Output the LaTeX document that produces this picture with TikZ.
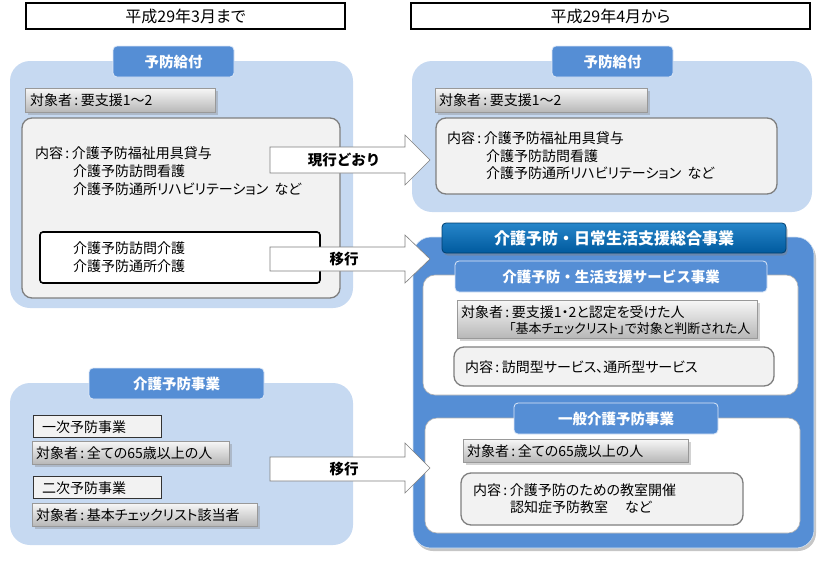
\documentclass[tikz,border=0pt]{standalone}
\usepackage{fontspec}
\setmainfont[RawFeature=+palt]{Noto Sans CJK JP}
\newfontfamily\jpfull{Noto Sans CJK JP}
\newcommand\jcolon{\kern2.5pt:\kern2.5pt}
\usetikzlibrary{shadows}
\definecolor{panelblue}{HTML}{C6D9F1}
\definecolor{tabblue}{HTML}{558ED5}
\definecolor{darkbar}{HTML}{0070C0}
\definecolor{darkbarb}{HTML}{005A9E}
\definecolor{boxgray}{HTML}{F2F2F2}
\definecolor{edgegray}{HTML}{7F7F7F}
\begin{document}
\begin{tikzpicture}[x=1pt,y=-1pt,
  every node/.style={inner sep=0pt, outer sep=0pt},
  hdr/.style={draw=black, line width=1.4pt, fill=white, anchor=north west},
  panel/.style={fill=panelblue, rounded corners=20pt, anchor=north west},
  tab/.style={fill=tabblue, draw=white!80!tabblue, line width=0.8pt, rounded corners=4pt, anchor=north west},
  tabtext/.style={text=white, font=\jpfull\fontsize{14.5pt}{17pt}\selectfont\bfseries},
  graybox/.style={top color=white!97!black, bottom color=white!72!black, draw=white!60!black, line width=0.5pt, anchor=north west,
     drop shadow={opacity=0.35, shadow xshift=2.5pt, shadow yshift=-2.5pt}},
  content/.style={fill=boxgray, draw=edgegray, line width=1.3pt, rounded corners=10pt, anchor=north west},
  plain/.style={fill=boxgray, draw=black!80, line width=1pt, anchor=north west},
  body/.style={font=\fontsize{14pt}{16pt}\selectfont, anchor=west},
  arr/.style={fill=white, draw=edgegray, line width=0.6pt, line join=miter},
  arrtext/.style={font=\jpfull\fontsize{14.5pt}{17pt}\selectfont\bfseries},
  whitepanel/.style={fill=white, draw=white!70!black, line width=0.6pt, rounded corners=12pt, anchor=north west}
]
\useasboundingbox (0,0) rectangle (838,562);

% headers
\node[hdr, minimum width=319pt, minimum height=26pt] (h1) at (26,3) {};
\node[font=\fontsize{16pt}{18pt}\selectfont] (h1t) at (h1.center) {平成29年3月まで};
\node[hdr, minimum width=399pt, minimum height=26pt] (h2) at (411,3) {};
\node[font=\fontsize{16pt}{18pt}\selectfont] (h2t) at (h2.center) {平成29年4月から};

% ---------- left upper panel ----------
\node[panel, minimum width=343pt, minimum height=247pt] (lp1) at (10,61) {};
\node[tab, minimum width=121pt, minimum height=31pt] (lt1) at (113,46) {};
\node[tabtext] at (lt1.center) {予防給付};
\node[graybox, minimum width=190pt, minimum height=24pt] (lg1) at (25,88) {};
\node[body] (lg1t) at (30,100) {対象者\jcolon 要支援1～2};
\node[content, minimum width=318pt, minimum height=180pt] (lc1) at (22,118) {};
\node[body] (lc1a) at (35,153) {内容\jcolon 介護予防福祉用具貸与};
\node[body] (lc1b) at (73,171) {介護予防訪問看護};
\node[body] (lc1c) at (73,189) {介護予防通所リハビリテーション\ \ など};
\node[fill=white, draw=black, line width=1.6pt, rounded corners=3pt, anchor=north west, minimum width=280pt, minimum height=51pt] (lb1) at (40,232) {};
\node[body] (lb1a) at (73,248) {介護予防訪問介護};
\node[body] (lb1b) at (73,266) {介護予防通所介護};

% ---------- left lower panel ----------
\node[panel, minimum width=343pt, minimum height=162pt] (lp2) at (10,383) {};
\node[tab, minimum width=175pt, minimum height=31pt] (lt2) at (89,368) {};
\node[tabtext] at (lt2.center) {介護予防事業};
\node[plain, minimum width=128pt, minimum height=22pt] (lq1) at (33,415) {};
\node[body] (lq1t) at (42,427) {一次予防事業};
\node[graybox, minimum width=197pt, minimum height=23pt] (lq2) at (32,441) {};
\node[body] (lq2t) at (36,453) {対象者\jcolon 全ての65歳以上の人};
\node[plain, minimum width=128pt, minimum height=22pt] (lq3) at (33,476) {};
\node[body] (lq3t) at (42,488) {二次予防事業};
\node[graybox, minimum width=225pt, minimum height=23pt] (lq4) at (32,503) {};
\node[body] (lq4t) at (36,515) {対象者\jcolon 基本チェックリスト該当者};

% ---------- right upper panel ----------
\node[panel, minimum width=400pt, minimum height=151pt] (rp1) at (412,61) {};
\node[tab, minimum width=121pt, minimum height=31pt] (rt1) at (552,46) {};
\node[tabtext] at (rt1.center) {予防給付};
\node[graybox, minimum width=212pt, minimum height=24pt] (rg1) at (435,88) {};
\node[body] (rg1t) at (439,100) {対象者\jcolon 要支援1～2};
\node[content, minimum width=341pt, minimum height=76pt] (rc1) at (436,118) {};
\node[body] (rc1a) at (447,138) {内容\jcolon 介護予防福祉用具貸与};
\node[body] (rc1b) at (486,156) {介護予防訪問看護};
\node[body] (rc1c) at (486,173) {介護予防通所リハビリテーション\ \ など};

% ---------- right big panel ----------
\node[fill=tabblue, draw=white!75!tabblue, line width=0.6pt, rounded corners=18pt, anchor=north west, minimum width=401pt, minimum height=311pt,
      drop shadow={opacity=0.45, shadow xshift=2pt, shadow yshift=-3pt}] (big) at (413,237) {};
\node[top color=darkbar!85!white, bottom color=darkbarb, draw=darkbarb!70!black, line width=0.8pt, rounded corners=4pt, anchor=north west,
      minimum width=344pt, minimum height=30pt, drop shadow={opacity=0.45, shadow xshift=1.5pt, shadow yshift=-2.5pt}] (bar) at (442,223) {};
\node[text=white, font=\jpfull\fontsize{16pt}{19pt}\selectfont\bfseries] (bart) at (bar.center) {介護予防・日常生活支援総合事業};

\node[whitepanel, minimum width=375pt, minimum height=120pt] (w1) at (423,275) {};
\node[tab, minimum width=312pt, minimum height=31pt] (st) at (455,261) {};
\node[tabtext] at (st.center) {介護予防・生活支援サービス事業};
\node[graybox, minimum width=300pt, minimum height=38pt] (sg) at (457,300) {};
\node[body] (sga) at (461,312) {対象者\jcolon 要支援1・2と認定を受けた人};
\node[body, font=\fontsize{13pt}{16pt}\selectfont] (sgb) at (509,329) {「基本チェックリスト」で対象と判断された人};
\node[content, minimum width=320pt, minimum height=39pt] (sc) at (454,347) {};
\node[body] (sct) at (465,367) {内容\jcolon 訪問型サービス、通所型サービス};

\node[whitepanel, minimum width=375pt, minimum height=115pt] (w2) at (425,418) {};
\node[tab, minimum width=204pt, minimum height=31pt] (gt) at (514,403) {};
\node[tabtext] at (gt.center) {一般介護予防事業};
\node[graybox, minimum width=225pt, minimum height=23pt] (gg) at (463,439) {};
\node[body] (ggt) at (467,451) {対象者\jcolon 全ての65歳以上の人};
\node[content, minimum width=282pt, minimum height=52pt] (gc) at (461,473) {};
\node[body] (gca) at (473,490) {内容\jcolon 介護予防のための教室開催};
\node[body] (gcb) at (510,507) {認知症予防教室\quad\ など};

% ---------- arrows ----------
\draw[arr] (270,147) -- (405,147) -- (405,135) -- (430,160) -- (405,185) -- (405,173) -- (270,173) -- cycle;
\node[arrtext] (a1) at (344,160) {現行どおり};
\draw[arr] (270,247) -- (405,247) -- (405,235) -- (430,259) -- (405,283) -- (405,271) -- (270,271) -- cycle;
\node[arrtext] (a2) at (344,259) {移行};
\draw[arr] (270,457) -- (405,457) -- (405,443) -- (430,468) -- (405,493) -- (405,481) -- (270,481) -- cycle;
\node[arrtext] (a3) at (344,469) {移行};
\end{tikzpicture}
\end{document}
